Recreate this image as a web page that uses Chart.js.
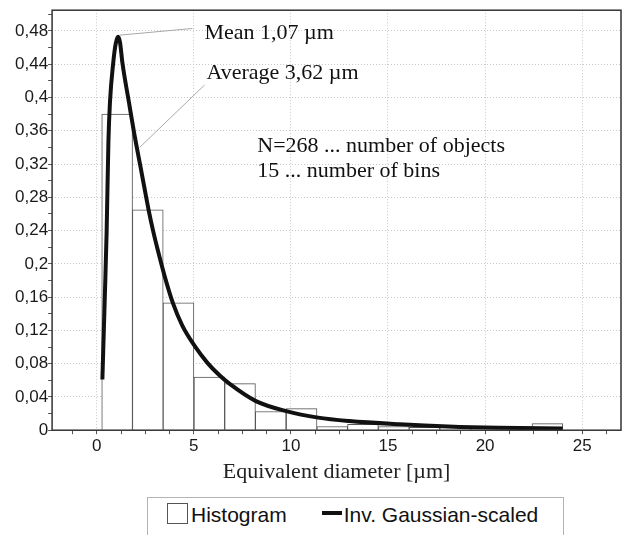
<!DOCTYPE html>
<html lang="en">
  <head>
    <meta charset="UTF-8" />
    <meta name="viewport" content="width=device-width, initial-scale=1.0" />
    <title>Equivalent diameter</title>
    <script src="https://cdn.jsdelivr.net/npm/chart.js@4.4.1/dist/chart.umd.min.js"></script>
    <style>
      body {
        margin: 0;
        background: #fff;
        overflow: hidden;
      }
      #wrap {
        position: relative;
        width: 623px;
        height: 535px;
      }
      #legend {
        position: absolute;
        left: 147px;
        top: 497px;
        width: 417px;
        height: 60px;
        box-sizing: border-box;
        border: 1.5px solid #b4b4b4;
        background: #fff;
        font-family: "Liberation Sans", Arial, sans-serif;
        font-size: 21px;
        color: #111;
        display: flex;
        align-items: flex-start;
        padding: 5px 0 0 19px;
      }
      .item {
        display: flex;
        align-items: center;
        height: 20px;
      }
      .item span {
        position: relative;
        top: 2px;
        white-space: nowrap;
      }
      .box {
        width: 19px;
        height: 19px;
        border: 1px solid #555;
        margin-right: 3px;
      }
      .line {
        width: 20px;
        height: 4px;
        background: #111;
        margin: 0 2px 0 35px;
      }
    </style>
  </head>
  <body>
    <div id="wrap">
      <canvas id="chart"></canvas>
      <div id="legend"></div>
    </div>

    <script>
      // histogram bins (centres in µm) and relative frequencies
      const binCenters = [1.05, 2.63, 4.21, 5.8, 7.38, 8.96, 10.55, 12.13, 13.71, 15.3, 16.88, 18.46, 20.05, 21.63, 23.21];
      const binHeights = [0.38, 0.265, 0.153, 0.064, 0.056, 0.0225, 0.026, 0.0045, 0.007, 0.0044, 0.0035, 0.004, 0.003, 0.003, 0.008];

      // fitted inverse gaussian curve
      const curveX = [0.29, 0.41, 0.51, 0.6, 0.68, 0.85, 0.98, 1.1, 1.2, 1.32, 1.66, 1.92, 2.3, 2.67, 2.9, 3.15, 3.5, 3.92, 4.4, 5.05, 5.7, 6.32, 6.83, 8.2, 9.75, 11.4, 13, 15.6, 18.1, 20.7, 24];
      const curveY = [0.061, 0.156, 0.239, 0.346, 0.394, 0.442, 0.465, 0.473, 0.466, 0.442, 0.394, 0.358, 0.311, 0.265, 0.24, 0.216, 0.185, 0.153, 0.126, 0.101, 0.081, 0.066, 0.056, 0.035, 0.023, 0.0151, 0.011, 0.0071, 0.0044, 0.0028, 0.002];

      const xTickValues = [0, 5, 10, 15, 20, 25];
      const xTickLabels = ["0", "5", "10", "15", "20", "25"];
      const xMinorTicks = [-1.25, 1.25, 2.5, 3.75, 6.25, 7.5, 8.75, 11.25, 12.5, 13.75, 16.25, 17.5, 18.75, 21.25, 22.5, 23.75, 26.25];
      const yTickValues = [0, 0.04, 0.08, 0.12, 0.16, 0.2, 0.24, 0.28, 0.32, 0.36, 0.4, 0.44, 0.48];
      const yTickLabels = ["0", "0,04", "0,08", "0,12", "0,16", "0,2", "0,24", "0,28", "0,32", "0,36", "0,4", "0,44", "0,48"];
      const yMinorTicks = [0.02, 0.06, 0.1, 0.14, 0.18, 0.22, 0.26, 0.3, 0.34, 0.38, 0.42, 0.46, 0.5];

      const notes = [
        { text: "Mean 1,07 µm", x: 5.55, y: 0.47, from: [1.18, 0.475], to: [4.93, 0.483] },
        { text: "Average 3,62 µm", x: 5.65, y: 0.4226, from: [2.21, 0.34], to: [5.55, 0.415] },
        { text: "N=268 ... number of objects", x: 8.27, y: 0.3345 },
        { text: "15 ... number of bins", x: 8.27, y: 0.3048 },
      ];

      function findIndex(list, v) {
        return list.findIndex((t) => Math.abs(t - v) < 1e-9);
      }

      const frame = {
        id: "frame",
        afterDraw(chart) {
          const { ctx, chartArea: a, scales } = chart;
          ctx.save();
          ctx.strokeStyle = "#333";
          ctx.lineWidth = 1.5;
          ctx.strokeRect(a.left, a.top, a.right - a.left, a.bottom - a.top);

          ctx.strokeStyle = "#a8a8a8";
          ctx.lineWidth = 1;
          for (const n of notes) {
            if (!n.from) continue;
            ctx.beginPath();
            ctx.moveTo(scales.x.getPixelForValue(n.from[0]), scales.y.getPixelForValue(n.from[1]));
            ctx.lineTo(scales.x.getPixelForValue(n.to[0]), scales.y.getPixelForValue(n.to[1]));
            ctx.stroke();
          }
          ctx.fillStyle = "#111";
          ctx.font = '22px "Liberation Serif", "Times New Roman", serif';
          ctx.textBaseline = "alphabetic";
          for (const n of notes) {
            ctx.fillText(n.text, scales.x.getPixelForValue(n.x), scales.y.getPixelForValue(n.y));
          }
          ctx.restore();
        },
      };

      const ctx = document.getElementById("chart").getContext("2d");
      const chart = new Chart(ctx, {
        type: "bar",
        data: {
          datasets: [
            {
              type: "line",
              label: "Inv. Gaussian-scaled",
              data: curveX.map((x, i) => ({ x: x, y: curveY[i] })),
              borderColor: "#111",
              borderWidth: 4,
              pointRadius: 0,
              fill: false,
              cubicInterpolationMode: "monotone",
              order: 1,
            },
            {
              type: "bar",
              label: "Histogram",
              data: binCenters.map((x, i) => ({ x: x, y: binHeights[i] })),
              backgroundColor: "#fff",
              borderColor: "#555",
              borderWidth: 1,
              barPercentage: 1,
              categoryPercentage: 1,
              order: 2,
            },
          ],
        },
        options: {
          responsive: true,
          maintainAspectRatio: false,
          animation: false,
          layout: { padding: { top: 7, right: 1, left: 15, bottom: 50 } },
          plugins: { legend: { display: false }, tooltip: { enabled: false } },
          scales: {
            x: {
              type: "linear",
              min: -2.3,
              max: 27,
              offset: false,
              afterBuildTicks: (axis) => {
                axis.ticks = xTickValues.concat(xMinorTicks).sort((a, b) => a - b).map((v) => ({ value: v }));
              },
              ticks: {
                autoSkip: false,
                maxRotation: 0,
                padding: 2,
                color: "#1a1a1a",
                font: { family: '"Liberation Sans", Arial, sans-serif', size: 17 },
                callback: (v) => {
                  const i = findIndex(xTickValues, v);
                  return i < 0 ? "" : xTickLabels[i];
                },
              },
              grid: {
                offset: false,
                color: (c) => (c.tick && findIndex(xTickValues, c.tick.value) >= 0 ? "#c8c8c8" : "rgba(0,0,0,0)"),
                tickColor: "#555",
                tickLength: 4,
              },
              border: { display: false, dash: [1, 2] },
              title: {
                display: true,
                text: "Equivalent diameter [µm]",
                color: "#222",
                padding: { top: 0, bottom: 0 },
                font: { family: '"Liberation Serif", "Times New Roman", serif', size: 22 },
              },
            },
            y: {
              min: 0,
              max: 0.505,
              afterBuildTicks: (axis) => {
                axis.ticks = yTickValues.concat(yMinorTicks).sort((a, b) => a - b).map((v) => ({ value: v }));
              },
              ticks: {
                autoSkip: false,
                padding: 0,
                color: "#1a1a1a",
                font: { family: '"Liberation Sans", Arial, sans-serif', size: 17 },
                callback: (v) => {
                  const i = findIndex(yTickValues, v);
                  return i < 0 ? "" : yTickLabels[i];
                },
              },
              grid: {
                color: (c) => (c.tick && findIndex(yTickValues, c.tick.value) >= 0 ? "#c8c8c8" : "rgba(0,0,0,0)"),
                tickColor: "#555",
                tickLength: 4,
              },
              border: { display: false, dash: [1, 2] },
            },
          },
        },
        plugins: [frame],
      });

      // bars must be as wide as one bin, not as the minor tick step
      const xs = chart.scales.x;
      const n = binCenters.length;
      chart.data.datasets[1].barThickness =
        (xs.getPixelForValue(binCenters[n - 1]) - xs.getPixelForValue(binCenters[0])) / (n - 1);
      chart.update();

      // legend below the chart, histogram first
      const legend = document.getElementById("legend");
      const items = chart.data.datasets.slice().sort((a, b) => b.order - a.order);
      for (const ds of items) {
        const el = document.createElement("div");
        el.className = "item";
        const mark = document.createElement("div");
        mark.className = ds.type === "bar" ? "box" : "line";
        const txt = document.createElement("span");
        txt.textContent = ds.label;
        el.appendChild(mark);
        el.appendChild(txt);
        legend.appendChild(el);
      }
    </script>
  </body>
</html>
